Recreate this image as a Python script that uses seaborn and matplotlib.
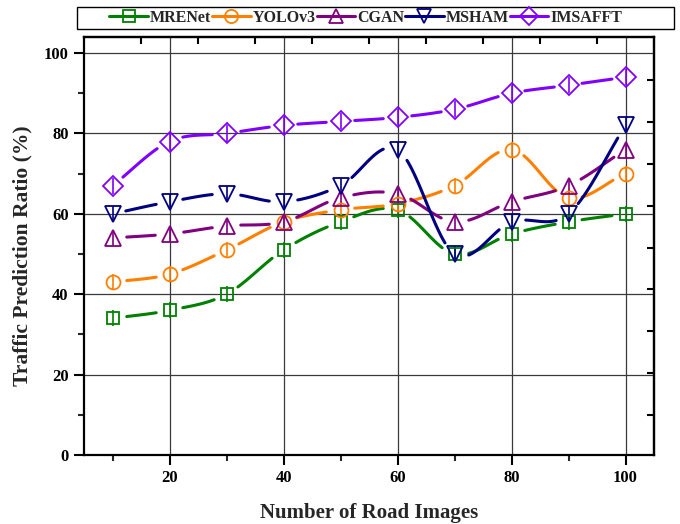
import numpy as np
import pandas as pd
import matplotlib
matplotlib.use("Agg")
import matplotlib.pyplot as plt
from matplotlib.lines import Line2D
from matplotlib.patches import Rectangle
import seaborn as sns

# ---- data -------------------------------------------------------------
road_images = [10, 20, 30, 40, 50, 60, 70, 80, 90, 100]
mrenet  = [34, 36, 40, 51, 58, 61, 50, 55, 58, 60]
yolov3  = [43, 45, 51, 58, 61, 62.5, 67, 76, 64, 70]
cgan    = [54, 55, 57, 58, 64, 65, 58, 63, 67, 76]
msham   = [60, 63, 65, 63, 67, 76, 50, 58, 60, 82]
imsafft = [67, 78, 80, 82, 83, 84, 86, 90, 92, 94]
err_half = 2.0

series_names = ["MRENet", "YOLOv3", "CGAN", "MSHAM", "IMSAFFT"]
series_vals = [mrenet, yolov3, cgan, msham, imsafft]
colors = ["#008000", "#FF8000", "#800080", "#000080", "#8000FF"]
markers = ["s", "o", "^", "v", "D"]
msizes = [9, 10, 11, 11, 10]

x_ticks = [20, 40, 60, 80, 100]
y_ticks = [0, 20, 40, 60, 80, 100]

# ---- style ------------------------------------------------------------
sns.set_theme(style="white")
plt.rcParams["font.family"] = ["Liberation Serif", "DejaVu Serif"]
plt.rcParams["font.weight"] = "bold"
plt.rcParams["axes.labelweight"] = "bold"

fig = plt.figure(figsize=(6.8, 5.24), dpi=100)
ax = fig.add_axes([84 / 680, 1 - 455 / 524, 570 / 680, 418 / 524])
ax.set_xlim(5, 105)
ax.set_ylim(0, 104)


def catmull_rom(x, y, n=60):
    """Smooth curve through the points (cardinal spline, tension 0)."""
    x = np.asarray(x, float)
    y = np.asarray(y, float)
    m = np.empty_like(y)
    m[1:-1] = (y[2:] - y[:-2]) / 2.0
    m[0] = y[1] - y[0]
    m[-1] = y[-1] - y[-2]
    xs, ys = [], []
    for i in range(len(x) - 1):
        t = np.linspace(0, 1, n, endpoint=(i == len(x) - 2))
        h00 = 2 * t**3 - 3 * t**2 + 1
        h10 = t**3 - 2 * t**2 + t
        h01 = -2 * t**3 + 3 * t**2
        h11 = t**3 - t**2
        xs.append(x[i] + t * (x[i + 1] - x[i]))
        ys.append(h00 * y[i] + h10 * m[i] + h01 * y[i + 1] + h11 * m[i + 1])
    return np.concatenate(xs), np.concatenate(ys)


# smooth curves, broken around each marker (gap measured in pixels)
px_per_x = 570 / 100.0
px_per_y = 418 / 104.0
gap_px = 13.5
frames = []
for name, vals in zip(series_names, series_vals):
    cx, cy = catmull_rom(road_images, vals)
    mx = np.asarray(road_images, float)
    my = np.asarray(vals, float)
    dx = (cx[:, None] - mx[None, :]) * px_per_x
    dy = (cy[:, None] - my[None, :]) * px_per_y
    d = np.sqrt(dx**2 + dy**2).min(axis=1)
    keep = d > gap_px
    seg = np.cumsum(np.r_[True, keep[1:] != keep[:-1]])
    frames.append(pd.DataFrame({"x": cx[keep], "y": cy[keep],
                                "seg": seg[keep], "model": name}))
curves = pd.concat(frames, ignore_index=True)

for name, col in zip(series_names, colors):
    sub = curves[curves["model"] == name]
    for _, piece in sub.groupby("seg"):
        sns.lineplot(data=piece, x="x", y="y", estimator=None, sort=False,
                     color=col, linewidth=2.2, ax=ax, zorder=3,
                     legend=False)

for name, vals, col, mk, ms in zip(series_names, series_vals, colors,
                                   markers, msizes):
    ax.errorbar(road_images, vals, yerr=err_half, fmt="none", ecolor=col,
                elinewidth=1.2, capsize=0, zorder=4)
    ax.plot(road_images, vals, linestyle="none", marker=mk, markersize=ms,
            markerfacecolor="none", markeredgecolor=col,
            markeredgewidth=1.3, zorder=5)

# ---- axes -------------------------------------------------------------
ax.set_xticks(x_ticks)
ax.set_xticks([10, 30, 50, 70, 90], minor=True)
ax.set_yticks(y_ticks)
ax.set_yticks([10, 30, 50, 70, 90], minor=True)
ax.tick_params(axis="both", which="major", direction="out", length=7,
               width=1.5, labelsize=12, pad=4, colors="black",
               left=True, bottom=True)
ax.tick_params(axis="both", which="minor", direction="out", length=4,
               width=1.5, left=True, bottom=True)
for lbl in ax.get_xticklabels() + ax.get_yticklabels():
    lbl.set_fontweight("bold")

ax.grid(True, which="major", color="#3a3a3a", linewidth=0.9)
ax.set_axisbelow(True)
for sp in ax.spines.values():
    sp.set_linewidth(1.6)
    sp.set_color("black")

top = ax.secondary_xaxis("top")
top.set_xticks([15, 25, 35, 45, 55, 65, 75, 85, 95])
top.set_xticklabels([])
top.tick_params(direction="in", length=5, width=1.5, colors="black")
top.spines["top"].set_linewidth(1.6)

right = ax.secondary_yaxis("right")
right.set_yticks([10, 20.4, 30.8, 41.2, 51.6, 62, 72.4, 82.8, 93.2])
right.set_yticklabels([])
right.tick_params(direction="in", length=5, width=1.5, colors="black")
right.spines["right"].set_linewidth(1.6)

ax.set_xlabel("Number of Road Images", fontsize=15, fontweight="bold",
              labelpad=12)
ax.set_ylabel("Traffic Prediction Ratio (%)", fontsize=15.5,
              fontweight="bold")
ax.yaxis.set_label_coords(-0.09, 0.478)

# ---- legend -----------------------------------------------------------
handles = [Line2D([], [], color=c, marker=m, markersize=ms * 0.95,
                  markerfacecolor="none", markeredgecolor=c,
                  markeredgewidth=1.3, linewidth=2.2)
           for c, m, ms in zip(colors, markers, msizes)]
fig.legend(handles, series_names, loc="center",
           bbox_to_anchor=(366 / 680, 1 - 18 / 524), ncol=5,
           frameon=False, handlelength=2.4, handletextpad=0.15,
           columnspacing=0.05, borderpad=0.0,
           prop={"family": "Liberation Serif", "weight": "bold",
                 "size": 11.5})
fig.patches.append(Rectangle((77 / 680, 1 - 29 / 524), 597 / 680, 22 / 524,
                             transform=fig.transFigure, fill=False,
                             edgecolor="black", linewidth=1.0))

fig.savefig("out.png", dpi=100, facecolor="white")
